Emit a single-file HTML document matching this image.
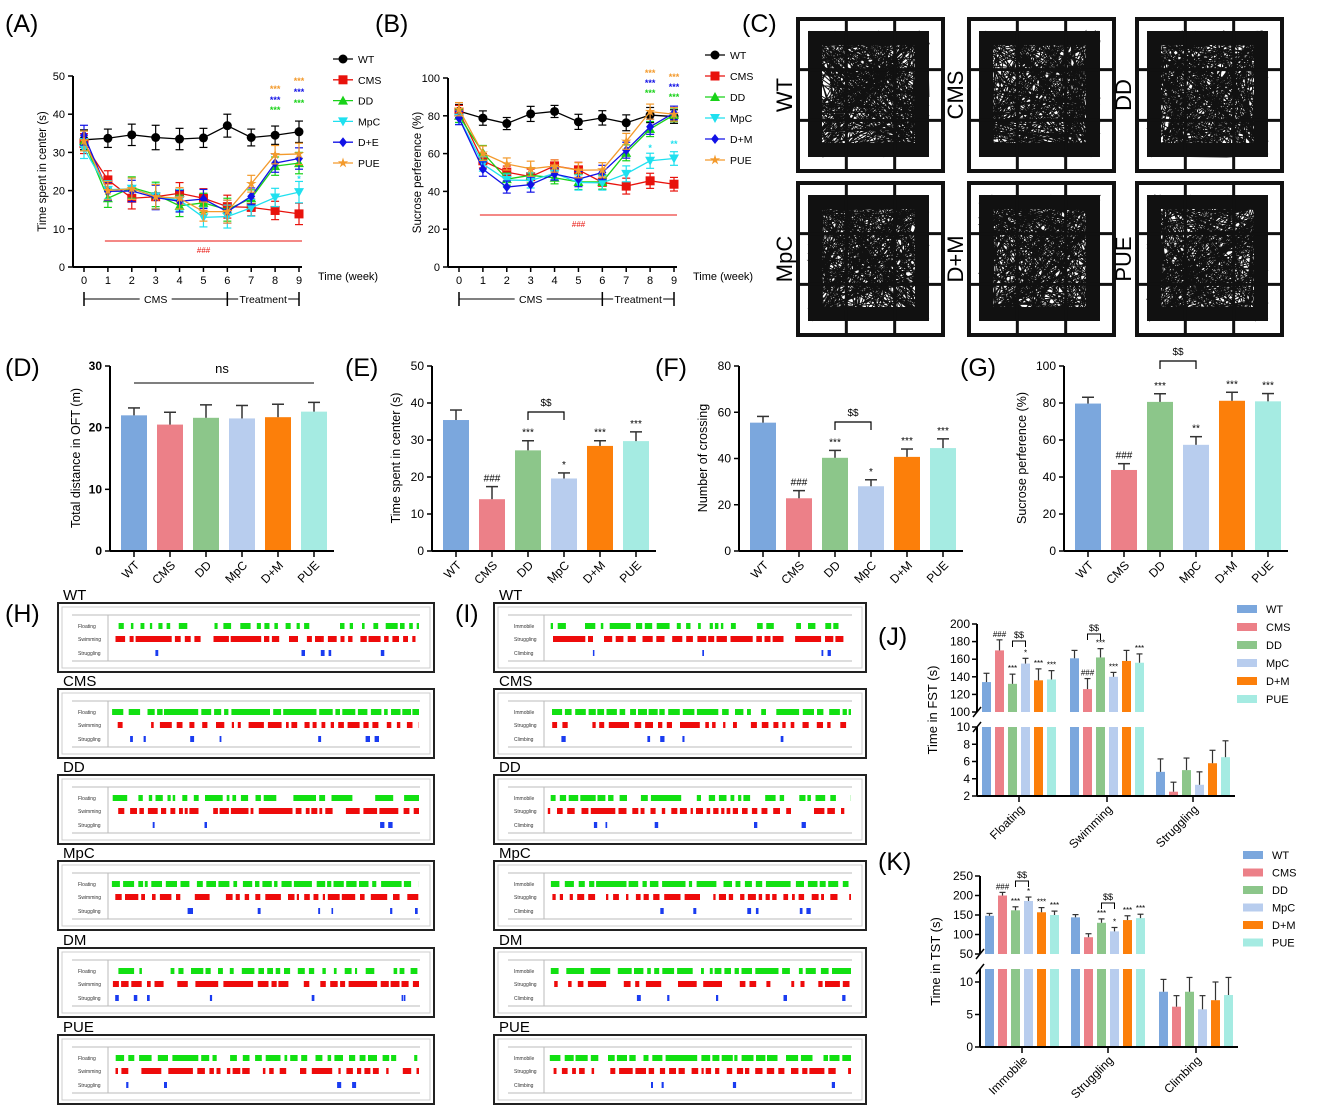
<!DOCTYPE html>
<html><head><meta charset="utf-8">
<style>
html,body{margin:0;padding:0;background:#fff;}
svg{display:block;font-family:"Liberation Sans",Arial,sans-serif;}
</style></head>
<body>
<svg id="fig" width="1325" height="1112" viewBox="0 0 1325 1112" xmlns="http://www.w3.org/2000/svg"></svg>
<script>
// ---------- DATA ----------
const weeks=[0,1,2,3,4,5,6,7,8,9];
const A_WT=[33.3,33.7,34.6,33.9,33.5,33.8,37,33.9,34.5,35.4];
const A_CMS=[32.3,22.8,18,18.4,19.3,18,15.8,15.6,14.8,13.9];
const A_DD=[33,18,20.8,19,16,16.8,15,18,26.4,27.2];
const A_MpC=[31,20.2,20.5,18.5,17.5,13,13.2,15.5,18.2,19.6];
const A_DE=[34.5,19.8,19.9,18.2,17.2,17.8,14.5,18.5,27.2,28.4];
const A_PUE=[33,20,20.5,18.4,18,14.5,14.5,21.8,29.4,29.6];
const A_ERR=[2.6,2.4,2.8,3.2,2.8,2.5,3.0,2.2,2.4,2.8];
const B_WT=[82.5,78.8,75.9,81,82.3,76.8,78.9,76.3,80.4,79.6];
const B_CMS=[82,56.2,50.2,47.8,53.5,51.4,44.8,42.8,45.6,43.8];
const B_DD=[80,60.5,46.5,48.5,47.2,45,45,60.4,73,80.5];
const B_MpC=[79,54.5,46,45.8,49.5,44.7,44.5,49.3,56.2,57.4];
const B_DM=[78.8,51.8,42.3,43.6,49.2,46.5,50,61.8,74.2,81.5];
const B_PUE=[83.5,60.2,54.5,52,53.4,51.2,51.4,66.5,82.2,80.8];
const B_ERR=[3.5,3.8,3.2,4.0,3.2,4.0,3.8,4.2,4.0,3.6];

const groups=["WT","CMS","DD","MpC","D+M","PUE"];
const D_vals=[22,20.5,21.6,21.5,21.7,22.6];
const D_err=[1.2,2.0,2.1,2.1,2.1,1.5];
const E_vals=[35.4,14,27.2,19.6,28.4,29.7];
const E_err=[2.7,3.4,2.6,1.5,1.4,2.5];
const F_vals=[55.5,22.8,40.3,28,40.7,44.5];
const F_err=[2.7,3.3,3.2,2.8,3.4,4.0];
const G_vals=[79.7,43.8,80.6,57.4,81.2,80.9];
const G_err=[3.4,3.4,4.4,4.4,4.6,4.2];

const J_cats=["Floating","Swimming","Struggling"];
const J_floating=[134,170,132,155,136,137];
const J_swimming=[161,126,162,140,158,156];
const J_struggling=[4.8,2.5,5,3.3,5.8,6.5];
const J_err=[[10,12,11,6,13,10],[9,12,10,5,12,10],[1.5,1.1,1.4,1.5,1.5,1.9]];
const K_cats=["Immobile","Struggling","Climbing"];
const K_immobile=[148,200,162,186,157,150];
const K_struggling=[144,93,130,108,137,142];
const K_climbing=[8.5,6.2,8.5,5.8,7.2,8];
const K_err=[[6,8,9,10,12,10],[7,9,10,10,11,10],[1.9,1.7,2.2,2.1,2.8,2.7]];

// ---------- HELPERS ----------
const NS="http://www.w3.org/2000/svg";
const svg=document.getElementById('fig');
function mk(tag,attrs,parent){const e=document.createElementNS(NS,tag);for(const k in attrs)e.setAttribute(k,attrs[k]);(parent||svg).appendChild(e);return e;}
function nm(el,name){


return el;}
function txt(x,y,s,size,opts,parent){const o=Object.assign({x:x,y:y,'font-size':size,fill:'#000'},opts||{});const t=mk('text',o,parent);t.textContent=s;return t;}
function grp(name){const g=mk('g',{});nm(g,name);return g;}
let seed=12345;function rnd(){seed=(seed*1103515245+12345)%2147483648;return seed/2147483648;}

const letters=[["(A)",5,32],["(B)",375,32],["(C)",742,32],["(D)",5,376],["(E)",345,376],["(F)",655,376],["(G)",960,376],["(H)",5,622],["(I)",455,622],["(J)",878,645],["(K)",878,870]];
letters.forEach(l=>{const t=txt(l[1],l[2],l[0],25);nm(t,'panel-label-'+l[0][1].toLowerCase());});

// ---------- LINE CHARTS ----------
const lineColors=["#000","#e8120c","#19d219","#1fe0ef","#1212e6","#f39a2c"];
function marker(g,type,x,y,c){
 let e;
 if(type==0)e=mk('circle',{cx:x,cy:y,r:4.5,fill:c},g);
 else if(type==1)e=mk('rect',{x:x-4.5,y:y-4.5,width:9,height:9,fill:c},g);
 else if(type==2)e=mk('polygon',{points:`${x},${y-5} ${x-5},${y+4} ${x+5},${y+4}`,fill:c},g);
 else if(type==3)e=mk('polygon',{points:`${x},${y+5} ${x-5},${y-4} ${x+5},${y-4}`,fill:c},g);
 else if(type==4)e=mk('polygon',{points:`${x},${y-5} ${x+4},${y} ${x},${y+5} ${x-4},${y}`,fill:c},g);
 else {let p=[];for(let i=0;i<10;i++){const r=i%2?2:5.5,a=-Math.PI/2+i*Math.PI/5;p.push((x+r*Math.cos(a)).toFixed(1)+','+(y+r*Math.sin(a)).toFixed(1));}e=mk('polygon',{points:p.join(' '),fill:c},g);}
 return e;
}
function lineChart(c){
 const g=grp(c.name);
 const X=w=>c.x0+(c.x9-c.x0)*w/9;
 const Y=v=>c.yZero-(c.yZero-c.yTop)*v/c.ymax;
 let a=mk('line',{x1:c.ax,y1:Y(0),x2:c.ax,y2:c.yTop,stroke:'#000','stroke-width':2},g);nm(a,'y-axis');
 a=mk('line',{x1:c.ax,y1:Y(0),x2:X(9)+3,y2:Y(0),stroke:'#000','stroke-width':2},g);nm(a,'x-axis');
 c.yticks.forEach(v=>{mk('line',{x1:c.ax-5,y1:Y(v),x2:c.ax,y2:Y(v),stroke:'#000','stroke-width':1.5},g);const t=txt(c.ax-8,Y(v)+4,String(v),11,{'text-anchor':'end'},g);nm(t,'y-tick-label');});
 weeks.forEach(w=>{mk('line',{x1:X(w),y1:Y(0),x2:X(w),y2:Y(0)+5,stroke:'#000','stroke-width':1.5},g);const t=txt(X(w),Y(0)+17,String(w),11,{'text-anchor':'middle'},g);nm(t,'x-tick-label');});
 let t=txt(c.ax+245,Y(0)+13,"Time (week)",11,{},g);nm(t,'x-axis-title');
 t=txt(0,0,c.ytitle,11.5,{'text-anchor':'middle',transform:`translate(${c.ax-27},${(Y(0)+c.yTop)/2}) rotate(-90)`},g);nm(t,'y-axis-title');
 t=mk('line',{x1:X(1)-3,y1:c.hashY,x2:X(9)+3,y2:c.hashY,stroke:'#e8120c','stroke-width':1},g);nm(t,'significance-line');
 t=txt((X(1)+X(9))/2,c.hashY+12,"###",8,{'text-anchor':'middle',fill:'#e8120c','font-style':'italic'},g);nm(t,'significance-hash');
 const by=Y(0)+32;
 [0,6,9].forEach(w=>mk('line',{x1:X(w),y1:by-7,x2:X(w),y2:by+7,stroke:'#000','stroke-width':1.5},g));
 mk('line',{x1:X(0),y1:by,x2:X(6),y2:by,stroke:'#000','stroke-width':1},g);
 mk('line',{x1:X(6),y1:by,x2:X(9),y2:by,stroke:'#000','stroke-width':1},g);
 mk('rect',{x:(X(0)+X(6))/2-16,y:by-6,width:32,height:12,fill:'#fff'},g);
 mk('rect',{x:(X(6)+X(9))/2-25,y:by-6,width:50,height:12,fill:'#fff'},g);
 t=txt((X(0)+X(6))/2,by+4,"CMS",10.5,{'text-anchor':'middle'},g);nm(t,'phase-cms-label');
 t=txt((X(6)+X(9))/2,by+4,"Treatment",10.5,{'text-anchor':'middle'},g);nm(t,'phase-treatment-label');
 c.series.forEach((s,i)=>{
  const sg=mk('g',{},g);nm(sg,'series-'+c.names[i].toLowerCase().replace('+',''));
  const col=lineColors[i];
  s.forEach((v,w)=>{const e=(i==0?c.errW:c.err)[w];mk('line',{x1:X(w),y1:Y(v-e),x2:X(w),y2:Y(v+e),stroke:col,'stroke-width':1.2},sg);mk('line',{x1:X(w)-4,y1:Y(v+e),x2:X(w)+4,y2:Y(v+e),stroke:col,'stroke-width':1.2},sg);mk('line',{x1:X(w)-4,y1:Y(v-e),x2:X(w)+4,y2:Y(v-e),stroke:col,'stroke-width':1.2},sg);});
  const pl=mk('polyline',{points:s.map((v,w)=>X(w)+','+Y(v)).join(' '),fill:'none',stroke:col,'stroke-width':1.3},sg);nm(pl,'line');
  s.forEach((v,w)=>{const m=marker(sg,i,X(w),Y(v),col);nm(m,'point');});
  const ly=c.legY+i*c.legDy;
  const lg=mk('g',{},g);nm(lg,'legend-entry');
  mk('line',{x1:c.legX-10,y1:ly,x2:c.legX+10,y2:ly,stroke:col,'stroke-width':1.3},lg);
  marker(lg,i,c.legX,ly,col);
  txt(c.legX+15,ly+4,c.names[i],10.5,{},lg);
 });
 c.stars.forEach(s=>{const t=txt(X(s[0]),s[1],s[2],9,{'text-anchor':'middle',fill:s[3],'font-weight':'bold'},g);nm(t,'significance-stars');});
}
lineChart({name:'chart-a',ax:73,x0:84,x9:299,yZero:267,yTop:76,ymax:50,yticks:[0,10,20,30,40,50],ytitle:"Time spent in center (s)",
 series:[A_WT,A_CMS,A_DD,A_MpC,A_DE,A_PUE],names:["WT","CMS","DD","MpC","D+E","PUE"],err:A_ERR,errW:A_ERR,hashY:241,legX:343,legY:59,legDy:20.8,
 stars:[[8,92,"***","#f39a2c"],[8,103,"***","#1212e6"],[8,113,"***","#19d219"],[9,84,"***","#f39a2c"],[9,95,"***","#1212e6"],[9,106,"***","#19d219"],[9,182,"*","#1fe0ef"]]});
lineChart({name:'chart-b',ax:448,x0:459,x9:674,yZero:267,yTop:78,ymax:100,yticks:[0,20,40,60,80,100],ytitle:"Sucrose perference (%)",
 series:[B_WT,B_CMS,B_DD,B_MpC,B_DM,B_PUE],names:["WT","CMS","DD","MpC","D+M","PUE"],err:B_ERR,errW:B_ERR,hashY:215,legX:715,legY:55,legDy:21,
 stars:[[8,76,"***","#f39a2c"],[8,86,"***","#1212e6"],[8,96,"***","#19d219"],[9,80,"***","#f39a2c"],[9,90,"***","#1212e6"],[9,100,"***","#19d219"],[8,151,"*","#1fe0ef"],[9,147,"**","#1fe0ef"]]});

// ---------- TRACKS (C) ----------
const trackNames=["WT","CMS","DD","MpC","D+M","PUE"];
const boxX=[798,969,1137],boxY=[19,183];
trackNames.forEach((n,i)=>{
 const bx=boxX[i%3],by=boxY[Math.floor(i/3)],bw=145,bh=152;
 const g=grp('track-plot-'+n.toLowerCase().replace('+',''));
 const cx=bx+10,cy=by+12,cw=bw-24,ch=bh-26;
 let d='';let px=cx+cw/2,py=cy+ch/2;d+=`M${px} ${py}`;
 for(let k=0;k<380;k++){
  let nx,ny;
  if(rnd()<0.5){const side=Math.floor(rnd()*4);const r=rnd()*18;
   if(side==0){nx=cx+r;ny=cy+rnd()*ch;}else if(side==1){nx=cx+cw-r;ny=cy+rnd()*ch;}else if(side==2){ny=cy+r;nx=cx+rnd()*cw;}else{ny=cy+ch-r;nx=cx+rnd()*cw;}}
  else{nx=cx+rnd()*cw;ny=cy+rnd()*ch;}
  d+=` L${nx.toFixed(1)} ${ny.toFixed(1)}`;}
 mk('path',{d:d,fill:'none',stroke:'#111','stroke-width':1.0},g);
 mk('rect',{x:cx+7,y:cy+7,width:cw-14,height:ch-14,fill:'none',stroke:'#111','stroke-width':14},g);
 for(let k=1;k<3;k++){mk('line',{x1:bx+bw*k/3,y1:by,x2:bx+bw*k/3,y2:by+bh,stroke:'#111','stroke-width':3},g);mk('line',{x1:bx,y1:by+bh*k/3,x2:bx+bw,y2:by+bh*k/3,stroke:'#111','stroke-width':3},g);}
 mk('rect',{x:bx,y:by,width:bw,height:bh,fill:'none',stroke:'#111','stroke-width':4},g);
 const t=txt(0,0,n,22,{'text-anchor':'middle',transform:`translate(${bx-6},${by+bh/2}) rotate(-90)`},g);nm(t,'track-label');
});

// ---------- BAR CHARTS D-G ----------
const barColors=["#7ba7dd","#ec8088","#8cc68a","#b8cdee","#fc7f0a","#a5ebe2"];
function barChart(c){
 const g=grp(c.name);
 const Y=v=>551-185*v/c.ymax;
 const X=i=>c.ax+24+36*i;
 c.vals.forEach((v,i)=>{const r=mk('rect',{x:X(i)-13,y:Y(v),width:26,height:551-Y(v),fill:barColors[i]},g);nm(r,'bar-'+groups[i].toLowerCase().replace('+',''));
  mk('line',{x1:X(i),y1:Y(v),x2:X(i),y2:Y(v+c.err[i]),stroke:'#333','stroke-width':1.5},g);
  mk('line',{x1:X(i)-6,y1:Y(v+c.err[i]),x2:X(i)+6,y2:Y(v+c.err[i]),stroke:'#333','stroke-width':1.5},g);
  if(c.ann[i]){const t=txt(X(i),Y(v+c.err[i])-5,c.ann[i],10,{'text-anchor':'middle'},g);nm(t,'significance-label');}
  mk('line',{x1:X(i),y1:551,x2:X(i),y2:557,stroke:'#000','stroke-width':1.5},g);
  const t=txt(0,0,groups[i],12,{'text-anchor':'end',transform:`translate(${X(i)+6},${566}) rotate(-45)`},g);nm(t,'x-tick-label');
 });
 let a=mk('line',{x1:c.ax,y1:551,x2:c.ax,y2:366,stroke:'#000','stroke-width':2},g);nm(a,'y-axis');
 a=mk('line',{x1:c.ax,y1:551,x2:c.ax+224,y2:551,stroke:'#000','stroke-width':2},g);nm(a,'x-axis');
 c.ticks.forEach(v=>{mk('line',{x1:c.ax-5,y1:Y(v),x2:c.ax,y2:Y(v),stroke:'#000','stroke-width':1.5},g);const t=txt(c.ax-8,Y(v)+4,String(v),12,{'text-anchor':'end','font-weight':c.bold?'bold':'normal'},g);nm(t,'y-tick-label');});
 const t=txt(0,0,c.ytitle,12.5,{'text-anchor':'middle',transform:`translate(${c.ax-c.tOff},${458}) rotate(-90)`},g);nm(t,'y-axis-title');
 if(c.br){const y=c.br;const b=mk('path',{d:`M${X(2)} ${y+8} V${y} H${X(3)} V${y+8}`,fill:'none',stroke:'#000','stroke-width':1.2},g);nm(b,'comparison-bracket');const s=txt((X(2)+X(3))/2,y-6,"$$",10,{'text-anchor':'middle'},g);nm(s,'comparison-label');}
 return g;
}
const gD=barChart({name:'chart-d',ax:110,vals:D_vals,err:D_err,ymax:30,ticks:[0,10,20,30],ytitle:"Total distance in OFT (m)",tOff:30,bold:true,ann:[]});
let e=mk('line',{x1:134,y1:383,x2:314,y2:383,stroke:'#333','stroke-width':1.2},gD);nm(e,'ns-line');
e=txt(222,373,"ns",13,{'text-anchor':'middle'},gD);nm(e,'ns-label');
barChart({name:'chart-e',ax:432,vals:E_vals,err:E_err,ymax:50,ticks:[0,10,20,30,40,50],ytitle:"Time spent in center (s)",tOff:32,bold:false,ann:["","###","***","*","***","***"],br:412});
barChart({name:'chart-f',ax:739,vals:F_vals,err:F_err,ymax:80,ticks:[0,20,40,60,80],ytitle:"Number of crossing",tOff:32,bold:false,ann:["","###","***","*","***","***"],br:422});
barChart({name:'chart-g',ax:1064,vals:G_vals,err:G_err,ymax:100,ticks:[0,20,40,60,80,100],ytitle:"Sucrose perference (%)",tOff:38,bold:false,ann:["","###","***","**","***","***"],br:361});

// ---------- ETHOGRAMS H, I ----------
const etNames=["WT","CMS","DD","MpC","DM","PUE"];
const etTops=[603,689,775,861,948,1035];
const H_dens=[[0.25,0.7,6],[0.8,0.3,7],[0.4,0.6,4],[0.65,0.35,8],[0.3,0.6,7],[0.5,0.45,4]];
const I_dens=[[0.4,0.65,4],[0.75,0.35,5],[0.6,0.45,5],[0.6,0.4,6],[0.75,0.35,5],[0.7,0.4,4]];
function ethogram(x0,x1,labels,dens,pname){
 etNames.forEach((n,i)=>{
  const top=etTops[i];const g=grp(pname+'-'+n.toLowerCase());
  let t=txt(x0+5,top-3,n,15,{},g);nm(t,'group-title');
  mk('rect',{x:x0,y:top,width:x1-x0,height:69,fill:'#fff',stroke:'#222','stroke-width':2},g);
  mk('rect',{x:x0+4,y:top+4,width:x1-x0-8,height:61,fill:'none',stroke:'#ccc','stroke-width':1},g);
  mk('line',{x1:x0+14,y1:top+12,x2:x1-14,y2:top+12,stroke:'#bbb','stroke-width':1},g);
  mk('line',{x1:x0+14,y1:top+58,x2:x1-14,y2:top+58,stroke:'#bbb','stroke-width':1},g);
  const sep=x0+50;mk('line',{x1:sep,y1:top+12,x2:sep,y2:top+58,stroke:'#bbb','stroke-width':1},g);
  const bx0=sep+3,bx1=x1-15;
  const cols=["#12e012","#ee0b0b","#1a3cf0"];
  [0,1,2].forEach(r=>{
   const yy=top+[23,36,50][r];
   t=txt(sep-30,yy+2,labels[r],5,{fill:'#333'},g);nm(t,'row-label');
   const rg=mk('g',{fill:cols[r]},g);nm(rg,'event-row');
   if(r<2){const p=dens[i][r];let x=bx0+rnd()*8;
    while(x<bx1){const u=rnd();const len=(u<0.2?(rnd()*5+1):(rnd()*1.5+0.2))*9*p+1.5;const gap=(rnd()<0.2?(rnd()*4+1):(rnd()*1.2+0.2))*8*(1-p)+1;const w=Math.min(len,bx1-x);mk('rect',{x:x.toFixed(1),y:yy-3,width:w.toFixed(1),height:6},rg);x+=len+gap;}}
   else{for(let k=0;k<dens[i][2];k++){const x=bx0+rnd()*(bx1-bx0);mk('rect',{x:x.toFixed(1),y:yy-3,width:(1.5+rnd()*3).toFixed(1),height:6},rg);}}
  });
 });
}
ethogram(58,434,["Floating","Swimming","Struggling"],H_dens,'ethogram-h');
ethogram(494,866,["Immobile","Struggling","Climbing"],I_dens,'ethogram-i');

// ---------- BROKEN-AXIS CHARTS J, K ----------
function brokenChart(c){
 const g=grp(c.name);
 const YU=v=>c.uBot-(c.uBot-c.uTop)*(v-c.uMin)/(c.uMax-c.uMin);
 const YL=v=>c.lBot-(c.lBot-c.lTop)*(v-c.lMin)/(c.lMax-c.lMin);
 c.series.forEach((vals,gi)=>{
  const gc=c.centers[gi];
  vals.forEach((v,i)=>{
   const x=gc+(i-2.5)*13;const col=barColors[i];const er=c.err[gi][i];
   const bg=mk('g',{},g);nm(bg,'bar-'+c.cats[gi].toLowerCase()+'-'+groups[i].toLowerCase().replace('+',''));
   let top;
   if(v>=c.uMin){mk('rect',{x:x-4.5,y:YU(v),width:9,height:c.uBot-YU(v),fill:col},bg);mk('rect',{x:x-4.5,y:c.lTop2,width:9,height:c.lBot-c.lTop2,fill:col},bg);top=YU(v+er);
    mk('line',{x1:x,y1:YU(v),x2:x,y2:top,stroke:'#333','stroke-width':1.2},bg);}
   else{mk('rect',{x:x-4.5,y:YL(v),width:9,height:c.lBot-YL(v),fill:col},bg);top=YL(v+er);mk('line',{x1:x,y1:YL(v),x2:x,y2:top,stroke:'#333','stroke-width':1.2},bg);}
   mk('line',{x1:x-3,y1:top,x2:x+3,y2:top,stroke:'#333','stroke-width':1.2},bg);
   const an=c.ann[gi][i];if(an){const t=txt(x,top-3,an,8,{'text-anchor':'middle'},g);nm(t,'significance-label');}
  });
  mk('line',{x1:gc,y1:c.lBot,x2:gc,y2:c.lBot+6,stroke:'#000','stroke-width':1.5},g);
  const t=txt(0,0,c.cats[gi],12,{'text-anchor':'end',transform:`translate(${gc+6},${c.lBot+14}) rotate(-45)`},g);nm(t,'x-tick-label');
 });
 c.brackets.forEach(b=>{const x1=c.centers[b[0]]+(b[1]-2.5)*13,x2=c.centers[b[0]]+(b[2]-2.5)*13;const p=mk('path',{d:`M${x1} ${b[3]+6} V${b[3]} H${x2} V${b[3]+6}`,fill:'none',stroke:'#000','stroke-width':1},g);nm(p,'comparison-bracket');const t=txt((x1+x2)/2,b[3]-3,"$$",9,{'text-anchor':'middle'},g);nm(t,'comparison-label');});
 let a=mk('line',{x1:c.ax,y1:c.uBot,x2:c.ax,y2:c.uTop,stroke:'#000','stroke-width':2},g);nm(a,'y-axis-upper');
 a=mk('line',{x1:c.ax,y1:c.lBot,x2:c.ax,y2:c.lTop2,stroke:'#000','stroke-width':2},g);nm(a,'y-axis-lower');
 mk('line',{x1:c.ax-4,y1:c.uBot+5,x2:c.ax+4,y2:c.uBot-5,stroke:'#000','stroke-width':1.5},g);
 mk('line',{x1:c.ax-4,y1:c.lTop2+5,x2:c.ax+4,y2:c.lTop2-5,stroke:'#000','stroke-width':1.5},g);
 a=mk('line',{x1:c.ax,y1:c.lBot,x2:c.axEnd,y2:c.lBot,stroke:'#000','stroke-width':2},g);nm(a,'x-axis');
 c.uTicks.forEach(v=>{mk('line',{x1:c.ax-5,y1:YU(v),x2:c.ax,y2:YU(v),stroke:'#000','stroke-width':1.5},g);const t=txt(c.ax-7,YU(v)+4,String(v),12,{'text-anchor':'end'},g);nm(t,'y-tick-label');});
 c.lTicks.forEach(v=>{mk('line',{x1:c.ax-5,y1:YL(v),x2:c.ax,y2:YL(v),stroke:'#000','stroke-width':1.5},g);const t=txt(c.ax-7,YL(v)+4,String(v),12,{'text-anchor':'end'},g);nm(t,'y-tick-label');});
 const t=txt(0,0,c.ytitle,13,{'text-anchor':'middle',transform:`translate(${c.ax-40},${(c.uTop+c.lBot)/2}) rotate(-90)`},g);nm(t,'y-axis-title');
 groups.forEach((n,i)=>{const lg=mk('g',{},g);nm(lg,'legend-entry');const ly=c.legY+i*c.legDy;mk('rect',{x:c.legX,y:ly-4,width:20,height:8,fill:barColors[i]},lg);txt(c.legX+29,ly+4,n,11,{},lg);});
}
brokenChart({name:'chart-j',ax:977,axEnd:1235,uTop:624,uBot:712,uMin:100,uMax:200,lTop:727,lTop2:727,lBot:796,lMin:2,lMax:10,
 uTicks:[100,120,140,160,180,200],lTicks:[2,4,6,8,10],cats:J_cats,series:[J_floating,J_swimming,J_struggling],err:J_err,centers:[1019,1107,1193],
 ann:[["","###","***","*","***","***"],["","###","***","***","","***"],["","","","","",""]],
 brackets:[[0,2,3,641],[1,1,2,634]],ytitle:"Time in FST (s)",legX:1237,legY:609,legDy:18});
brokenChart({name:'chart-k',ax:980,axEnd:1238,uTop:876,uBot:954,uMin:50,uMax:250,lTop:982,lTop2:969,lBot:1047,lMin:0,lMax:10,
 uTicks:[50,100,150,200,250],lTicks:[0,5,10],cats:K_cats,series:[K_immobile,K_struggling,K_climbing],err:K_err,centers:[1022,1108,1196],
 ann:[["","###","***","*","***","***"],["","","***","*","***","***"],["","","","","",""]],
 brackets:[[0,2,3,881],[1,2,3,903]],ytitle:"Time in TST (s)",legX:1243,legY:855,legDy:17.5});
</script>
</body></html>
